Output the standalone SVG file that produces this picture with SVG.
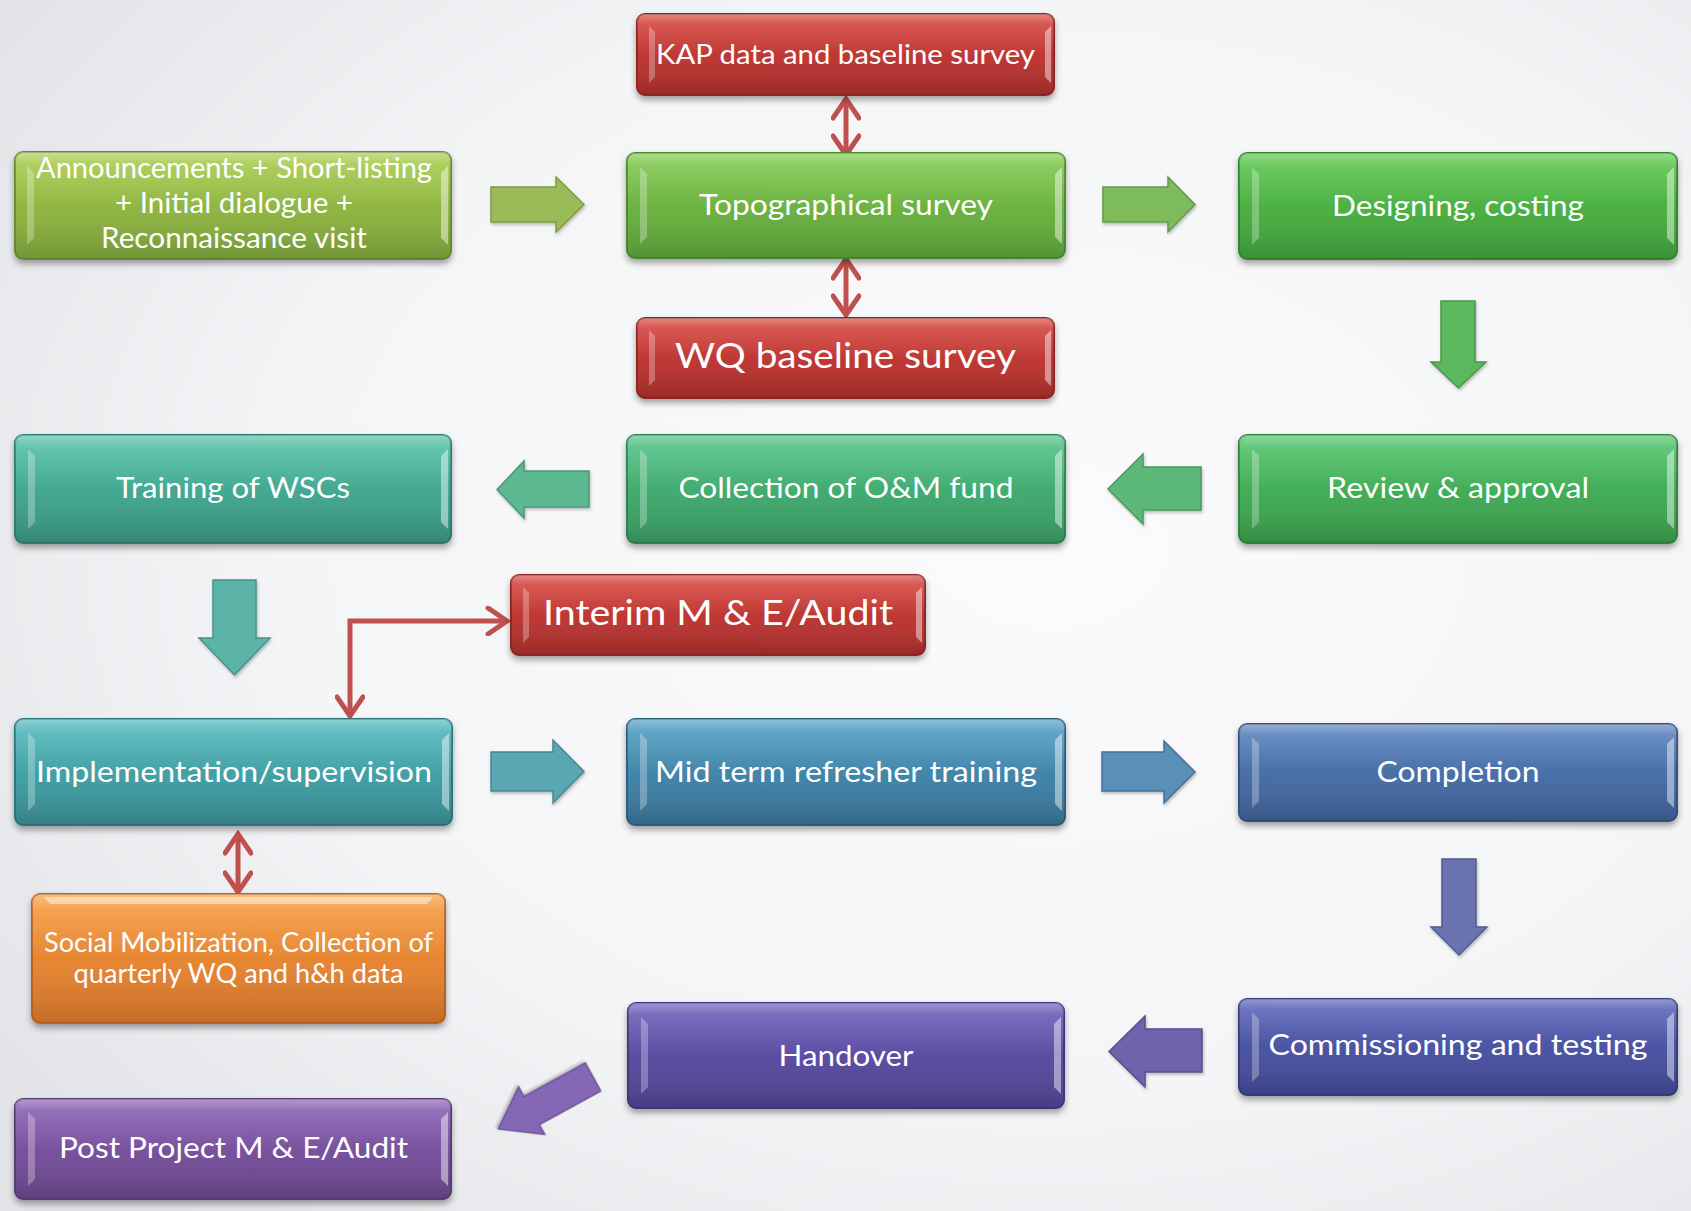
<svg xmlns="http://www.w3.org/2000/svg" width="1691" height="1211" viewBox="0 0 1691 1211">
<defs>
<radialGradient id="bg" cx="62%" cy="45%" r="75%">
<stop offset="0" stop-color="#fbfbfd"/>
<stop offset="0.6" stop-color="#f4f5f7"/>
<stop offset="1" stop-color="#e3e4e7"/>
</radialGradient>
<linearGradient id="gRed" x1="0" y1="0" x2="0" y2="1"><stop offset="0" stop-color="#d9453f"/><stop offset="1" stop-color="#a62c2a"/></linearGradient>
<linearGradient id="gAnn" x1="0" y1="0" x2="0" y2="1"><stop offset="0" stop-color="#a8cd4c"/><stop offset="1" stop-color="#7ba13a"/></linearGradient>
<linearGradient id="gTopo" x1="0" y1="0" x2="0" y2="1"><stop offset="0" stop-color="#80c94c"/><stop offset="1" stop-color="#5a9f38"/></linearGradient>
<linearGradient id="gDes" x1="0" y1="0" x2="0" y2="1"><stop offset="0" stop-color="#5cc74c"/><stop offset="1" stop-color="#3e9c3a"/></linearGradient>
<linearGradient id="gRev" x1="0" y1="0" x2="0" y2="1"><stop offset="0" stop-color="#4fc46a"/><stop offset="1" stop-color="#389848"/></linearGradient>
<linearGradient id="gColl" x1="0" y1="0" x2="0" y2="1"><stop offset="0" stop-color="#4fc285"/><stop offset="1" stop-color="#37975e"/></linearGradient>
<linearGradient id="gTrain" x1="0" y1="0" x2="0" y2="1"><stop offset="0" stop-color="#52c1a6"/><stop offset="1" stop-color="#379180"/></linearGradient>
<linearGradient id="gImpl" x1="0" y1="0" x2="0" y2="1"><stop offset="0" stop-color="#50b9bd"/><stop offset="1" stop-color="#378a90"/></linearGradient>
<linearGradient id="gMid" x1="0" y1="0" x2="0" y2="1"><stop offset="0" stop-color="#4e9fc4"/><stop offset="1" stop-color="#376f93"/></linearGradient>
<linearGradient id="gComp" x1="0" y1="0" x2="0" y2="1"><stop offset="0" stop-color="#5682bf"/><stop offset="1" stop-color="#3d5d92"/></linearGradient>
<linearGradient id="gComm" x1="0" y1="0" x2="0" y2="1"><stop offset="0" stop-color="#5962b9"/><stop offset="1" stop-color="#3f4790"/></linearGradient>
<linearGradient id="gHand" x1="0" y1="0" x2="0" y2="1"><stop offset="0" stop-color="#6b5bb8"/><stop offset="1" stop-color="#4d418f"/></linearGradient>
<linearGradient id="gPost" x1="0" y1="0" x2="0" y2="1"><stop offset="0" stop-color="#8a60b3"/><stop offset="1" stop-color="#67448a"/></linearGradient>
<linearGradient id="gSoc" x1="0" y1="0" x2="0" y2="1"><stop offset="0" stop-color="#f89a3c"/><stop offset="1" stop-color="#d5742a"/></linearGradient>
<linearGradient id="gloss" x1="0" y1="0" x2="0" y2="1">
<stop offset="0" stop-color="#ffffff" stop-opacity="0.35"/>
<stop offset="0.12" stop-color="#ffffff" stop-opacity="0.12"/>
<stop offset="0.5" stop-color="#ffffff" stop-opacity="0"/>
<stop offset="1" stop-color="#000000" stop-opacity="0.08"/>
</linearGradient>
<filter id="sh" x="-5%" y="-10%" width="110%" height="130%">
<feDropShadow dx="0" dy="4" stdDeviation="3" flood-color="#000" flood-opacity="0.35"/>
</filter>
<filter id="sha" x="-10%" y="-10%" width="130%" height="130%">
<feDropShadow dx="1" dy="2" stdDeviation="1.5" flood-color="#000" flood-opacity="0.25"/>
</filter>
<marker id="chev" viewBox="0 0 26 30" refX="22" refY="15" markerWidth="26" markerHeight="30" markerUnits="userSpaceOnUse" orient="auto-start-reverse">
<path d="M3,2 L22,15 L3,28" fill="none" stroke="#c0504d" stroke-width="5" stroke-linecap="round" stroke-linejoin="miter"/>
</marker>
<style>
.box{stroke-width:2;filter:url(#sh)}
.gl{fill:url(#gloss)}
.fl{fill:#ffffff;fill-opacity:0.28}
.fr{fill:#ffffff;fill-opacity:0.45}
.t{font-family:Lato,"Open Sans","Liberation Sans",sans-serif;fill:#ffffff;text-anchor:middle}
.red{stroke:#c0504d;stroke-width:5;fill:none;marker-start:url(#chev);marker-end:url(#chev)}
.blk{stroke-width:1.5;filter:url(#sha)}
</style>
</defs>
<rect width="1691" height="1211" fill="url(#bg)"/>

<g id="connectors">
<polygon class="blk" fill="#9bbb59" stroke="#7f9c45" points="491,187 556,187 556,177 584,204.5 556,232 556,222 491,222"/>
<polygon class="blk" fill="#7dbb5c" stroke="#639a48" points="1103,187 1168,187 1168,177 1195,204.5 1168,232 1168,222 1103,222"/>
<polygon class="blk" fill="#5cb85c" stroke="#489848" points="1441,301 1475,301 1475,362 1486,362 1458.5,388 1431,362 1441,362"/>
<polygon class="blk" fill="#5cb878" stroke="#489862" points="1201,467 1143,467 1143,454 1108,489 1143,524 1143,510 1201,510"/>
<polygon class="blk" fill="#5cb890" stroke="#489874" points="589,471 524,471 524,461 497,489.5 524,518 524,507 589,507"/>
<polygon class="blk" fill="#5cb3a8" stroke="#489388" points="213,580 256,580 256,638 270,638 234.5,675 199,638 213,638"/>
<polygon class="blk" fill="#5aa6b2" stroke="#468892" points="491,752 553,752 553,740 584,771.5 553,803 553,791 491,791"/>
<polygon class="blk" fill="#5a8fb8" stroke="#467398" points="1102,752 1164,752 1164,741 1195,772 1164,803 1164,791 1102,791"/>
<polygon class="blk" fill="#6873b0" stroke="#535c90" points="1442,859 1476,859 1476,927 1487,927 1459,955 1431,927 1442,927"/>
<polygon class="blk" fill="#6f62ad" stroke="#594e8d" points="1202,1029 1145,1029 1145,1016 1109,1051.5 1145,1087 1145,1072 1202,1072"/>
<polygon class="blk" fill="#8468b6" stroke="#6b5296" transform="translate(593,1077) rotate(151.3)" points="0,-16 70,-16 70,-27 108,0 70,27 70,16 0,16"/>
<path class="red" d="M846,99 L846,155"/>
<path class="red" d="M846,259 L846,315"/>
<path class="red" d="M238,834 L238,892"/>
<path class="red" d="M350,716 L350,621 L507,621"/>
</g>

<g id="kap">
<rect class="box" x="637" y="14" width="417" height="81" rx="8" fill="url(#gRed)" stroke="#8e2826"/>
<rect class="gl" x="637" y="14" width="417" height="81" rx="8"/>
<polygon class="fl" points="649,26 655,32 655,77 649,83"/>
<polygon class="fr" points="1051,26 1045,32 1045,77 1051,83"/>
<text class="t" x="845.5" y="64" font-size="26" textLength="379" lengthAdjust="spacingAndGlyphs">KAP data and baseline survey</text>
</g>

<g id="announcements">
<rect class="box" x="15" y="152" width="436" height="107" rx="8" fill="url(#gAnn)" stroke="#688a30"/>
<rect class="gl" x="15" y="152" width="436" height="107" rx="8"/>
<polygon class="fl" points="27,166 34,173 34,238 27,245"/>
<polygon class="fr" points="448,166 441,173 441,238 448,245"/>
<text class="t" x="234" y="178" font-size="28" textLength="396" lengthAdjust="spacingAndGlyphs">Announcements + Short-listing</text>
<text class="t" x="234" y="213" font-size="28" textLength="238" lengthAdjust="spacingAndGlyphs">+ Initial dialogue +</text>
<text class="t" x="234" y="248" font-size="28" textLength="266" lengthAdjust="spacingAndGlyphs">Reconnaissance visit</text>
</g>

<g id="topographical">
<rect class="box" x="627" y="153" width="438" height="105" rx="8" fill="url(#gTopo)" stroke="#4b8a2e"/>
<rect class="gl" x="627" y="153" width="438" height="105" rx="8"/>
<polygon class="fl" points="640,167 647,174 647,237 640,244"/>
<polygon class="fr" points="1062,167 1055,174 1055,237 1062,244"/>
<text class="t" x="846" y="215" font-size="29" textLength="294" lengthAdjust="spacingAndGlyphs">Topographical survey</text>
</g>

<g id="designing">
<rect class="box" x="1239" y="153" width="438" height="106" rx="8" fill="url(#gDes)" stroke="#33872f"/>
<rect class="gl" x="1239" y="153" width="438" height="106" rx="8"/>
<polygon class="fl" points="1252,167 1259,174 1259,238 1252,245"/>
<polygon class="fr" points="1674,167 1667,174 1667,238 1674,245"/>
<text class="t" x="1458" y="216" font-size="29" textLength="252" lengthAdjust="spacingAndGlyphs">Designing, costing</text>
</g>

<g id="wq">
<rect class="box" x="637" y="318" width="417" height="80" rx="8" fill="url(#gRed)" stroke="#8e2826"/>
<rect class="gl" x="637" y="318" width="417" height="80" rx="8"/>
<polygon class="fl" points="649,330 655,336 655,380 649,386"/>
<polygon class="fr" points="1051,330 1045,336 1045,380 1051,386"/>
<text class="t" x="845.5" y="368" font-size="35" textLength="341" lengthAdjust="spacingAndGlyphs">WQ baseline survey</text>
</g>

<g id="training">
<rect class="box" x="15" y="435" width="436" height="108" rx="8" fill="url(#gTrain)" stroke="#2f7d6d"/>
<rect class="gl" x="15" y="435" width="436" height="108" rx="8"/>
<polygon class="fl" points="28,449 35,456 35,522 28,529"/>
<polygon class="fr" points="448,449 441,456 441,522 448,529"/>
<text class="t" x="233" y="498" font-size="29" textLength="234" lengthAdjust="spacingAndGlyphs">Training of WSCs</text>
</g>

<g id="collection">
<rect class="box" x="627" y="435" width="438" height="108" rx="8" fill="url(#gColl)" stroke="#2f8351"/>
<rect class="gl" x="627" y="435" width="438" height="108" rx="8"/>
<polygon class="fl" points="640,449 647,456 647,522 640,529"/>
<polygon class="fr" points="1062,449 1055,456 1055,522 1062,529"/>
<text class="t" x="846" y="498" font-size="29" textLength="335" lengthAdjust="spacingAndGlyphs">Collection of O&amp;M fund</text>
</g>

<g id="review">
<rect class="box" x="1239" y="435" width="438" height="108" rx="8" fill="url(#gRev)" stroke="#30843d"/>
<rect class="gl" x="1239" y="435" width="438" height="108" rx="8"/>
<polygon class="fl" points="1252,449 1259,456 1259,522 1252,529"/>
<polygon class="fr" points="1674,449 1667,456 1667,522 1674,529"/>
<text class="t" x="1458" y="498" font-size="29" textLength="262" lengthAdjust="spacingAndGlyphs">Review &amp; approval</text>
</g>

<g id="interim">
<rect class="box" x="511" y="575" width="414" height="80" rx="8" fill="url(#gRed)" stroke="#8e2826"/>
<rect class="gl" x="511" y="575" width="414" height="80" rx="8"/>
<polygon class="fl" points="523,587 529,593 529,637 523,643"/>
<polygon class="fr" points="922,587 916,593 916,637 922,643"/>
<text class="t" x="718" y="625" font-size="35" textLength="350" lengthAdjust="spacingAndGlyphs">Interim M &amp; E/Audit</text>
</g>

<g id="implementation">
<rect class="box" x="15" y="719" width="437" height="106" rx="8" fill="url(#gImpl)" stroke="#2f767b"/>
<rect class="gl" x="15" y="719" width="437" height="106" rx="8"/>
<polygon class="fl" points="28,733 35,740 35,804 28,811"/>
<polygon class="fr" points="449,733 442,740 442,804 449,811"/>
<text class="t" x="234" y="782" font-size="29" textLength="396" lengthAdjust="spacingAndGlyphs">Implementation/supervision</text>
</g>

<g id="midterm">
<rect class="box" x="627" y="719" width="438" height="106" rx="8" fill="url(#gMid)" stroke="#2f5f7e"/>
<rect class="gl" x="627" y="719" width="438" height="106" rx="8"/>
<polygon class="fl" points="640,733 647,740 647,804 640,811"/>
<polygon class="fr" points="1062,733 1055,740 1055,804 1062,811"/>
<text class="t" x="846" y="782" font-size="29" textLength="382" lengthAdjust="spacingAndGlyphs">Mid term refresher training</text>
</g>

<g id="completion">
<rect class="box" x="1239" y="724" width="438" height="97" rx="8" fill="url(#gComp)" stroke="#34507e"/>
<rect class="gl" x="1239" y="724" width="438" height="97" rx="8"/>
<polygon class="fl" points="1252,737 1259,744 1259,801 1252,808"/>
<polygon class="fr" points="1674,737 1667,744 1667,801 1674,808"/>
<text class="t" x="1458" y="782" font-size="29" textLength="163" lengthAdjust="spacingAndGlyphs">Completion</text>
</g>

<g id="social">
<rect class="box" x="32" y="894" width="413" height="129" rx="8" fill="url(#gSoc)" stroke="#b9641f"/>
<rect class="gl" x="32" y="894" width="413" height="129" rx="8"/>
<polygon class="fr" points="44,897 433,897 427,904 50,904"/>
<text class="t" x="238.5" y="952" font-size="26" textLength="389" lengthAdjust="spacingAndGlyphs">Social Mobilization, Collection of</text>
<text class="t" x="238.5" y="983" font-size="26" textLength="330" lengthAdjust="spacingAndGlyphs">quarterly WQ and h&amp;h data</text>
</g>

<g id="handover">
<rect class="box" x="628" y="1003" width="436" height="105" rx="8" fill="url(#gHand)" stroke="#41377b"/>
<rect class="gl" x="628" y="1003" width="436" height="105" rx="8"/>
<polygon class="fl" points="641,1017 648,1024 648,1087 641,1094"/>
<polygon class="fr" points="1061,1017 1054,1024 1054,1087 1061,1094"/>
<text class="t" x="846" y="1066" font-size="29" textLength="135" lengthAdjust="spacingAndGlyphs">Handover</text>
</g>

<g id="commissioning">
<rect class="box" x="1239" y="999" width="438" height="96" rx="8" fill="url(#gComm)" stroke="#363d7c"/>
<rect class="gl" x="1239" y="999" width="438" height="96" rx="8"/>
<polygon class="fl" points="1252,1012 1259,1019 1259,1075 1252,1082"/>
<polygon class="fr" points="1674,1012 1667,1019 1667,1075 1674,1082"/>
<text class="t" x="1458" y="1055" font-size="29" textLength="379" lengthAdjust="spacingAndGlyphs">Commissioning and testing</text>
</g>

<g id="postproject">
<rect class="box" x="15" y="1099" width="436" height="100" rx="8" fill="url(#gPost)" stroke="#573a76"/>
<rect class="gl" x="15" y="1099" width="436" height="100" rx="8"/>
<polygon class="fl" points="28,1112 35,1119 35,1179 28,1186"/>
<polygon class="fr" points="448,1112 441,1119 441,1179 448,1186"/>
<text class="t" x="233.5" y="1158" font-size="29" textLength="349" lengthAdjust="spacingAndGlyphs">Post Project M &amp; E/Audit</text>
</g>
</svg>
